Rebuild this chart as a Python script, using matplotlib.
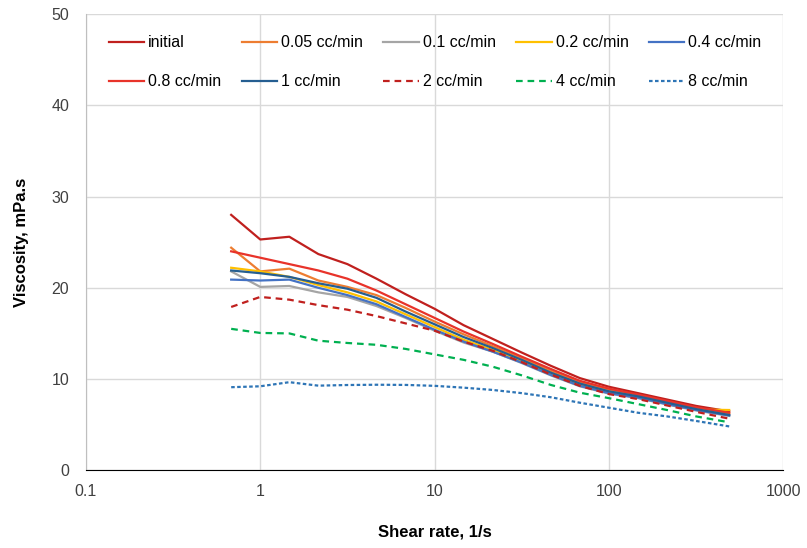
import matplotlib
matplotlib.use("Agg")
import matplotlib.pyplot as plt

plt.rcParams["font.family"] = ["Liberation Sans", "DejaVu Sans"]

shear_rate = [0.681, 1.0, 1.468, 2.154, 3.162, 4.642, 6.813, 10.0, 14.68,
              21.54, 31.62, 46.42, 68.13, 100.0, 146.8, 215.4, 316.2, 490.0]

visc_initial = [28.0, 25.3, 25.6, 23.7, 22.6, 21.0, 19.3, 17.7, 15.9,
                14.4, 12.9, 11.45, 10.1, 9.15, 8.45, 7.75, 7.05, 6.45]
visc_005 = [24.4, 21.8, 22.1, 20.8, 20.1, 19.2, 17.8, 16.3, 14.9,
            13.6, 12.3, 10.9, 9.65, 8.8, 8.2, 7.5, 6.8, 6.2]
visc_01 = [21.8, 20.1, 20.2, 19.5, 19.0, 18.0, 16.7, 15.3, 14.0,
           13.0, 11.75, 10.4, 9.2, 8.4, 7.9, 7.2, 6.55, 5.95]
visc_02 = [22.2, 21.8, 21.2, 20.3, 19.5, 18.5, 17.1, 15.7, 14.3,
           13.2, 11.9, 10.55, 9.35, 8.55, 8.0, 7.3, 6.65, 6.6]
visc_04 = [20.9, 20.8, 20.9, 20.0, 19.2, 18.2, 16.8, 15.4, 14.1,
           13.0, 11.8, 10.45, 9.25, 8.45, 7.95, 7.25, 6.6, 6.0]
visc_08 = [24.0, 23.3, 22.6, 21.9, 21.0, 19.7, 18.2, 16.7, 15.2,
           13.85, 12.45, 11.1, 9.8, 8.95, 8.3, 7.6, 6.9, 6.3]
visc_1 = [21.9, 21.6, 21.2, 20.5, 19.9, 18.9, 17.4, 16.0, 14.6,
          13.4, 12.1, 10.7, 9.5, 8.65, 8.1, 7.4, 6.7, 6.05]
visc_2 = [17.9, 19.0, 18.7, 18.1, 17.6, 16.9, 16.1, 15.3, 14.1,
          13.1, 11.85, 10.5, 9.25, 8.35, 7.8, 7.1, 6.4, 5.65]
visc_4 = [15.5, 15.05, 15.0, 14.2, 13.95, 13.75, 13.3, 12.7, 12.1,
          11.35, 10.4, 9.35, 8.5, 7.9, 7.25, 6.6, 5.9, 5.25]
visc_8 = [9.1, 9.2, 9.65, 9.27, 9.34, 9.37, 9.35, 9.25, 9.05,
          8.8, 8.45, 8.0, 7.4, 6.85, 6.3, 5.9, 5.4, 4.8]

labels = ["initial", "0.05 cc/min", "0.1 cc/min", "0.2 cc/min", "0.4 cc/min",
          "0.8 cc/min", "1 cc/min", "2 cc/min", "4 cc/min", "8 cc/min"]
series = [visc_initial, visc_005, visc_01, visc_02, visc_04,
          visc_08, visc_1, visc_2, visc_4, visc_8]
colors = ["#C0201E", "#ED7D31", "#A5A5A5", "#FFC000", "#4472C4",
          "#E8332A", "#255E91", "#C0201E", "#00B050", "#2E75B6"]
styles = ["-", "-", "-", "-", "-", "-", "-", (0, (3, 2.2)), (0, (3, 2.2)), (0, (1.6, 1.1))]

fig = plt.figure(figsize=(8.07, 5.48), dpi=100)
ax = fig.add_axes([0.1065, 0.142, 0.864, 0.832])

lines = []
for y, lab, c, ls in zip(series, labels, colors, styles):
    ln, = ax.plot(shear_rate, y, color=c, linestyle=ls, lw=1.6, label=lab)
    lines.append(ln)

ax.set_xscale("log")
ax.set_xlim(0.1, 1000)
ax.set_ylim(0, 50)
ax.set_yticks([0, 10, 20, 30, 40, 50])
ax.set_xticks([0.1, 1, 10, 100, 1000])
ax.set_xticklabels(["0.1", "1", "10", "100", "1000"])
ax.minorticks_off()
ax.grid(True, color="#D9D9D9", lw=1)
ax.set_axisbelow(True)
ax.tick_params(length=0, labelsize=11.5, colors="#404040")
ax.tick_params(axis="y", pad=12)
ax.tick_params(axis="x", pad=10)
for s in ["top", "right"]:
    ax.spines[s].set_visible(False)
ax.spines["left"].set_color("#BFBFBF")
ax.spines["bottom"].set_color("#000000")

ax.set_xlabel("Shear rate, 1/s", fontsize=12, fontweight="bold", labelpad=18)
ax.set_ylabel("Viscosity, mPa.s", fontsize=12, fontweight="bold", labelpad=16)

# legend fills column by column, so interleave to get row order
order = [0, 5, 1, 6, 2, 7, 3, 8, 4, 9]
ax.legend([lines[i] for i in order], [labels[i] for i in order],
          loc="upper left", bbox_to_anchor=(0.012, 0.985), ncol=5, frameon=False,
          fontsize=11.5, handlelength=2.2, handletextpad=0.25, columnspacing=1.3,
          labelspacing=1.5)

fig.savefig("out.png", dpi=100)
